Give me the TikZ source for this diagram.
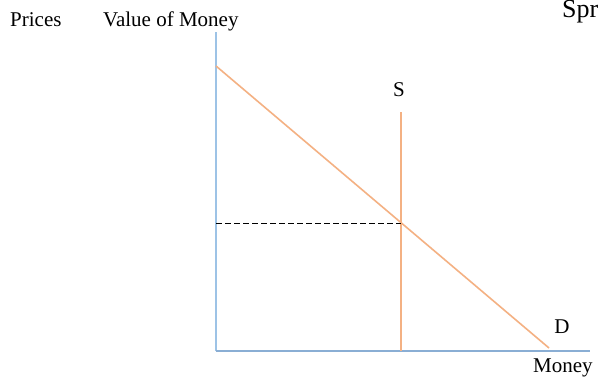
\documentclass[tikz,border=0pt]{standalone}
\usepackage{fontspec}
\setmainfont{Liberation Serif}
\definecolor{axisblue}{RGB}{157,195,230}
\definecolor{axisdark}{RGB}{130,165,205}
\definecolor{curveorange}{RGB}{244,177,131}
\begin{document}
\begin{tikzpicture}[x=1pt,y=-1pt,
  lbl/.style={font=\fontsize{21}{25}\selectfont, inner sep=0pt},
  axisline/.style={draw=axisblue, line width=2pt},
  curveline/.style={draw=curveorange, line width=1.6pt},
  dashline/.style={draw=black, dash pattern=on 5.5pt off 3.5pt, line width=0.8pt}]
\useasboundingbox (0,0) rectangle (605,381);
\fill[white] (0,0) rectangle (605,381);
% coordinates
\coordinate (O) at (216,351);
\coordinate (ytop) at (216,32);
\coordinate (xend) at (590,351);
\coordinate (dtop) at (216,66);
\coordinate (dend) at (549,348);
\coordinate (stop) at (401,112);
\coordinate (sbot) at (401,351);
\coordinate (eq) at (401,223);
\coordinate (pe) at (216,223);
% axes
\draw[axisline] (O) -- (ytop);
\draw[axisline, draw=axisdark!70!axisblue] (O) -- (xend);
% curves
\draw[curveline] (dtop) -- (dend);
\draw[curveline] (stop) -- (sbot);
\draw[dashline] (pe) -- (eq);
% labels
\node[lbl, anchor=base west] (prices) at (10,26) {Prices};
\node[lbl, anchor=base west] (vom) at (103,26) {Value of Money};
\node[lbl, anchor=base west, font=\fontsize{26}{30}\selectfont] (spr) at (562,17) {Spr};
\node[lbl] (slab) at (399,90) {S};
\node[lbl] (dlab) at (562,327) {D};
\node[lbl, anchor=base west] (money) at (533,372) {Money};
\end{tikzpicture}
\end{document}
